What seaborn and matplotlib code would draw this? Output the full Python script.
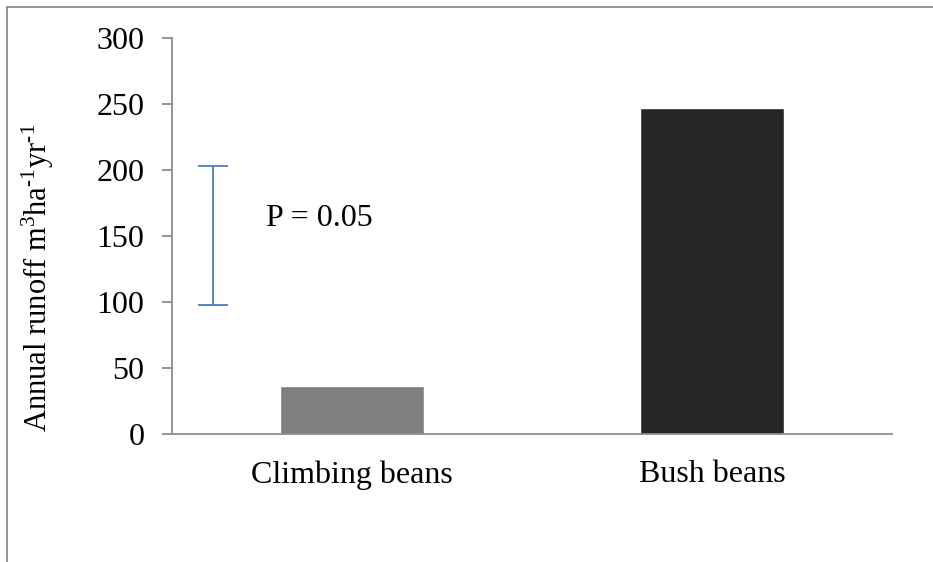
import matplotlib
matplotlib.use('Agg')
import matplotlib.pyplot as plt
from matplotlib.lines import Line2D
import pandas as pd
import seaborn as sns

# data
crops = ['Climbing beans', 'Bush beans']
runoff = [36, 247]
bar_colors = ['#7f7f7f', '#262626']
# LSD bar (P = 0.05), drawn left of the first bar
lsd_low, lsd_high = 97.5, 203

sns.set_style('white')
plt.rcParams['font.family'] = ['Liberation Serif', 'DejaVu Serif']
plt.rcParams['mathtext.fontset'] = 'custom'
plt.rcParams['mathtext.rm'] = 'Liberation Serif'
plt.rcParams['mathtext.it'] = 'Liberation Serif:italic'
plt.rcParams['text.color'] = 'black'
plt.rcParams['axes.labelcolor'] = 'black'
plt.rcParams['xtick.labelcolor'] = 'black'
plt.rcParams['ytick.labelcolor'] = 'black'

df = pd.DataFrame({'crop': crops, 'runoff': runoff})

fig = plt.figure(figsize=(9.33, 5.62), dpi=100)
ax = fig.add_axes([0.1844, 0.2278, 0.7716, 0.7046])

sns.barplot(data=df, x='crop', y='runoff', hue='crop', palette=bar_colors,
            width=0.4, legend=False, ax=ax, saturation=1)

ax.set_xlim(-0.5, 1.5)
ax.set_ylim(0, 300)
ax.set_yticks([0, 50, 100, 150, 200, 250, 300])

# error bar for LSD
ax.errorbar([-0.385], [(lsd_low + lsd_high) / 2], yerr=[(lsd_high - lsd_low) / 2],
            color='#4a7ebb', capsize=10.5, elinewidth=1.3, capthick=1.3, fmt='none')
ax.text(-0.24, 163, 'P = 0.05', fontsize=23, va='center', ha='left')

grey = '#8c8c8c'
for s in ['top', 'right']:
    ax.spines[s].set_visible(False)
for s in ['left', 'bottom']:
    ax.spines[s].set_color(grey)
    ax.spines[s].set_linewidth(1.3)

ax.set_xticks([-0.5, 0.5, 1.5], minor=True)
ax.tick_params(axis='x', which='major', length=0, labelsize=23, pad=19)
ax.tick_params(axis='x', which='minor', length=7, width=1.3, color=grey, direction='out')
ax.tick_params(axis='y', length=7, width=1.3, color=grey, direction='out',
               labelsize=23, pad=13, left=True)

ax.set_xlabel('')
ax.set_ylabel(r'Annual runoff m$^{3}$ha$^{\text{-1}}$yr$^{\text{-1}}$', fontsize=22)
ax.yaxis.set_label_coords(-0.161, 0.394)

# chart frame (only left and top edge visible in the crop)
fig.add_artist(Line2D([0.0075, 0.0075], [0, 0.9875], color=grey, lw=1.3, transform=fig.transFigure))
fig.add_artist(Line2D([0.0075, 1.0], [0.9875, 0.9875], color=grey, lw=1.3, transform=fig.transFigure))

fig.savefig('out.png', dpi=100)
